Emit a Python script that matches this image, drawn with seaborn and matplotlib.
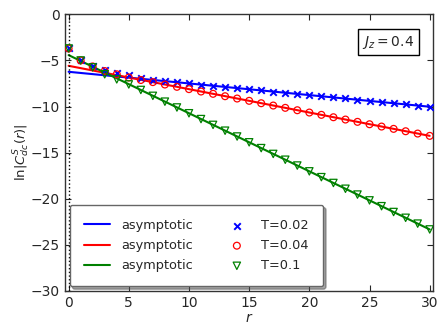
import numpy as np
import pandas as pd
import matplotlib
matplotlib.use("Agg")
import matplotlib.pyplot as plt
import seaborn as sns

# distances r = 0..30
r = list(range(31))

t002 = [-3.7, -5.0, -5.6, -6.05, -6.35, -6.6, -6.85, -7.1, -7.23, -7.36,
        -7.48, -7.61, -7.73, -7.86, -7.99, -8.11, -8.24, -8.37, -8.49, -8.62,
        -8.75, -8.87, -9.0, -9.12, -9.25, -9.38, -9.5, -9.63, -9.76, -9.89, -10.02]
t004 = [-3.7, -5.0, -5.65, -6.15, -6.5, -6.85, -7.12, -7.35, -7.61, -7.86,
        -8.11, -8.37, -8.62, -8.88, -9.13, -9.38, -9.64, -9.89, -10.14, -10.4,
        -10.65, -10.9, -11.16, -11.41, -11.66, -11.92, -12.17, -12.42, -12.68, -12.93, -13.18]
t01 = [-3.7, -5.0, -5.75, -6.5, -7.05, -7.6, -8.2, -8.84, -9.47, -10.1,
       -10.73, -11.36, -11.99, -12.62, -13.25, -13.88, -14.51, -15.14, -15.77, -16.4,
       -17.03, -17.66, -18.29, -18.92, -19.55, -20.18, -20.81, -21.44, -22.07, -22.7, -23.33]

# asymptotic straight lines (end points)
asym_r = [0, 30]
asym_002 = [-6.23, -10.02]
asym_004 = [-5.58, -13.18]
asym_01 = [-4.42, -23.33]

sns.set_style("ticks")
plt.rcParams["font.family"] = ["DejaVu Sans"]
plt.rcParams["xtick.direction"] = "in"
plt.rcParams["ytick.direction"] = "in"
plt.rcParams["xtick.top"] = True
plt.rcParams["ytick.right"] = True
plt.rcParams["mathtext.fontset"] = "dejavusans"

fig = plt.figure(figsize=(4.47, 3.34), dpi=100)
ax = fig.add_axes([0.1454, 0.129, 0.824, 0.828])

# asymptotic lines
sns.lineplot(x=asym_r, y=asym_002, color="blue", lw=1.5, label="asymptotic", ax=ax)
sns.lineplot(x=asym_r, y=asym_004, color="red", lw=1.5, label="asymptotic", ax=ax)
sns.lineplot(x=asym_r, y=asym_01, color="green", lw=1.5, label="asymptotic", ax=ax)

# data points
sns.scatterplot(x=r, y=t002, marker="x", color="blue", s=22, linewidth=1.4,
                label="T=0.02", ax=ax, zorder=3)
sns.scatterplot(x=r, y=t004, marker="o", facecolors="none", edgecolor="red",
                s=24, linewidth=0.9, label="T=0.04", ax=ax, zorder=3)
sns.scatterplot(x=r, y=t01, marker="v", facecolors="none", edgecolor="green",
                s=28, linewidth=0.9, label="T=0.1", ax=ax, zorder=3)

ax.axvline(0, color="black", ls=":", lw=1)

ax.set_xlim(-0.3, 30.3)
ax.set_ylim(-30, 0)
ax.set_xticks([0, 5, 10, 15, 20, 25, 30])
ax.set_yticks([0, -5, -10, -15, -20, -25, -30])
ax.tick_params(labelsize=10, length=4, width=0.8)
ax.set_xlabel("$r$", fontsize=10, labelpad=1)
ax.set_ylabel(r"$\ln|C^{S}_{dc}(r)|$", fontsize=9.5, labelpad=-1)
for sp in ax.spines.values():
    sp.set_linewidth(1.0)
    sp.set_color("0.2")

ax.text(0.878, 0.90, "$J_z = 0.4$", transform=ax.transAxes, fontsize=10,
        ha="center", va="center",
        bbox=dict(boxstyle="square,pad=0.3", fc="white", ec="black", lw=1))

handles, labels = ax.get_legend_handles_labels()
ax.legend(handles, labels, ncol=2, loc="lower left", fontsize=9.3,
          scatterpoints=1, shadow=True, fancybox=True, framealpha=1,
          edgecolor="0.4", borderaxespad=0.35, handlelength=2.0,
          handletextpad=0.9, columnspacing=2.4, borderpad=1.1,
          labelspacing=0.55)

fig.savefig("out.png", dpi=100)
